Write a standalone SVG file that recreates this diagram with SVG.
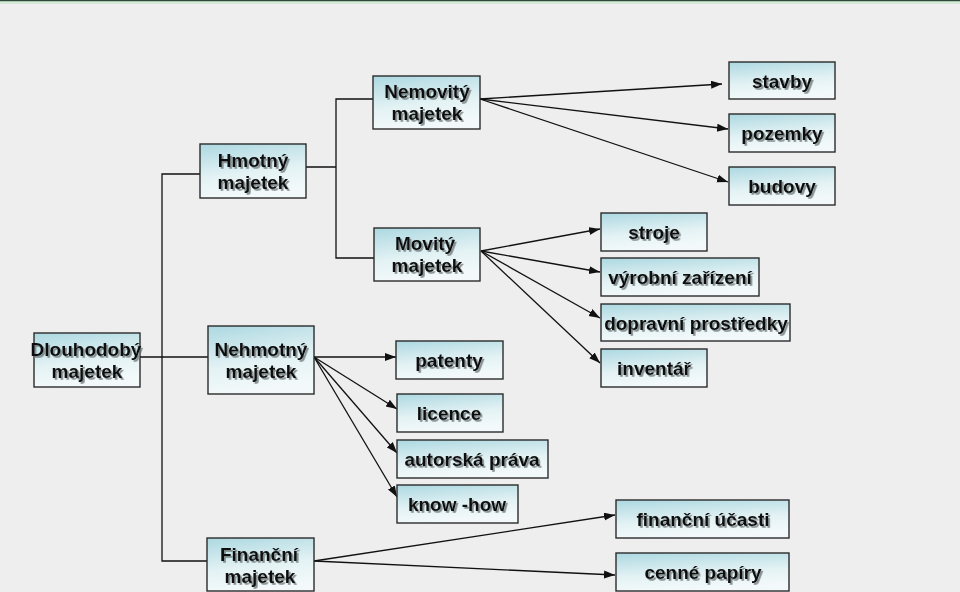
<svg xmlns="http://www.w3.org/2000/svg" width="960" height="592" viewBox="0 0 960 592">
<defs>
<linearGradient id="bx" x1="0" y1="0" x2="0.25" y2="1">
<stop offset="0" stop-color="#acd8e1"/>
<stop offset="0.6" stop-color="#e3f2f4"/>
<stop offset="1" stop-color="#f3f9fa"/>
</linearGradient>
<filter id="ts" x="-10%" y="-30%" width="130%" height="170%">
<feDropShadow dx="1.8" dy="1.8" stdDeviation="0.7" flood-color="#6a7476" flood-opacity="0.8"/>
</filter>
<marker id="ah" markerUnits="userSpaceOnUse" markerWidth="13" markerHeight="9" refX="11" refY="4" orient="auto">
<path d="M0,0 L11,4 L0,8 z" fill="#111"/>
</marker>
<style>
.b{fill:url(#bx);stroke:#2b2b2b;stroke-width:1.4}
.t{font-family:"Liberation Sans",Arial,sans-serif;font-weight:bold;font-size:19px;fill:#111;text-anchor:middle;filter:url(#ts)}
.c{fill:none;stroke:#111;stroke-width:1.3}
.a{fill:none;stroke:#111;stroke-width:1.3;marker-end:url(#ah)}
</style>
</defs>
<rect x="0" y="0" width="960" height="592" fill="#eeeeee"/>
<rect x="0" y="0" width="960" height="1.5" fill="#2a4a35"/>
<rect x="0" y="1.5" width="960" height="2.5" fill="#d3ead7"/>
<g id="connectors">
<path class="c" d="M200,174 H162 V561 H207"/>
<path class="c" d="M140,357 H208"/>
<path class="c" d="M306,167 H336 V258 H374 M336,167 V99 H373"/>
<line class="a" x1="480" y1="99" x2="722" y2="84"/>
<line class="a" x1="480" y1="99" x2="728" y2="129"/>
<line class="a" x1="480" y1="99" x2="728" y2="182"/>
<line class="a" x1="481" y1="251" x2="600" y2="229"/>
<line class="a" x1="481" y1="251" x2="600" y2="272"/>
<line class="a" x1="481" y1="251" x2="600" y2="318"/>
<line class="a" x1="481" y1="251" x2="600" y2="363"/>
<line class="a" x1="314" y1="357" x2="396" y2="357"/>
<line class="a" x1="314" y1="357" x2="397" y2="409"/>
<line class="a" x1="314" y1="357" x2="397" y2="453"/>
<line class="a" x1="314" y1="357" x2="397" y2="497"/>
<line class="a" x1="314" y1="561" x2="615" y2="515"/>
<line class="a" x1="314" y1="561" x2="615" y2="575"/>
</g>
<g id="dlouhodoby"><rect class="b" x="34" y="333" width="106" height="54"/><text class="t" x="86" y="356">Dlouhodobý</text><text class="t" x="87" y="378">majetek</text></g>
<g id="hmotny"><rect class="b" x="200" y="144" width="106" height="54"/><text class="t" x="253" y="167">Hmotný</text><text class="t" x="253" y="189">majetek</text></g>
<g id="nehmotny"><rect class="b" x="208" y="326" width="106" height="68"/><text class="t" x="261" y="356">Nehmotný</text><text class="t" x="261" y="378">majetek</text></g>
<g id="financni"><rect class="b" x="207" y="538" width="107" height="53"/><text class="t" x="259" y="561">Finanční</text><text class="t" x="260" y="583">majetek</text></g>
<g id="nemovity"><rect class="b" x="373" y="76" width="107" height="53"/><text class="t" x="427" y="98">Nemovitý</text><text class="t" x="427" y="120">majetek</text></g>
<g id="movity"><rect class="b" x="374" y="228" width="106" height="53"/><text class="t" x="425" y="250">Movitý</text><text class="t" x="427" y="272">majetek</text></g>
<g id="stavby"><rect class="b" x="729" y="62" width="106" height="37"/><text class="t" x="782" y="88">stavby</text></g>
<g id="pozemky"><rect class="b" x="729" y="114" width="106" height="38"/><text class="t" x="782" y="140">pozemky</text></g>
<g id="budovy"><rect class="b" x="729" y="167" width="106" height="38"/><text class="t" x="782" y="193">budovy</text></g>
<g id="stroje"><rect class="b" x="601" y="213" width="106" height="38"/><text class="t" x="654" y="239">stroje</text></g>
<g id="vyrobni"><rect class="b" x="601" y="258" width="158" height="38"/><text class="t" x="680" y="284">výrobní zařízení</text></g>
<g id="dopravni"><rect class="b" x="601" y="304" width="189" height="37"/><text class="t" x="696" y="330">dopravní prostředky</text></g>
<g id="inventar"><rect class="b" x="601" y="349" width="106" height="38"/><text class="t" x="654" y="375">inventář</text></g>
<g id="patenty"><rect class="b" x="396" y="341" width="107" height="38"/><text class="t" x="449" y="367">patenty</text></g>
<g id="licence"><rect class="b" x="397" y="394" width="106" height="38"/><text class="t" x="449" y="420">licence</text></g>
<g id="autorska"><rect class="b" x="397" y="440" width="151" height="38"/><text class="t" x="472" y="466">autorská práva</text></g>
<g id="knowhow"><rect class="b" x="397" y="485" width="121" height="38"/><text class="t" x="457" y="511">know -how</text></g>
<g id="ucasti"><rect class="b" x="616" y="500" width="173" height="38"/><text class="t" x="703" y="526">finanční účasti</text></g>
<g id="papiry"><rect class="b" x="616" y="553" width="173" height="38"/><text class="t" x="703" y="579">cenné papíry</text></g>
</svg>
